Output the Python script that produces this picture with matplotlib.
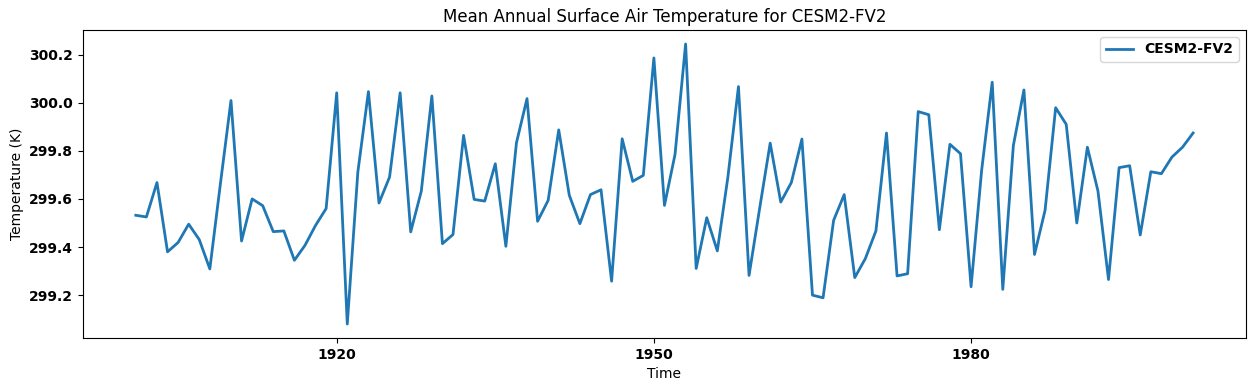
import matplotlib
matplotlib.use('Agg')
import matplotlib.pyplot as plt
import numpy as np

model = 'CESM2-FV2'
years = np.arange(1901, 2002)
tas = [
    299.532, 299.525, 299.668, 299.380, 299.419, 299.495, 299.431, 299.309, 299.663, 300.009,
    299.425, 299.600, 299.572, 299.464, 299.467, 299.345, 299.407, 299.490, 299.560, 300.041,
    299.080, 299.712, 300.046, 299.583, 299.691, 300.041, 299.463, 299.632, 300.028, 299.414,
    299.452, 299.864, 299.598, 299.591, 299.746, 299.403, 299.833, 300.017, 299.507, 299.594,
    299.887, 299.615, 299.497, 299.618, 299.638, 299.258, 299.850, 299.673, 299.698, 300.186,
    299.573, 299.785, 300.244, 299.311, 299.522, 299.384, 299.691, 300.067, 299.282, 299.560,
    299.832, 299.587, 299.668, 299.849, 299.200, 299.189, 299.511, 299.618, 299.273, 299.352,
    299.467, 299.874, 299.280, 299.289, 299.963, 299.950, 299.472, 299.827, 299.788, 299.235,
    299.719, 300.085, 299.224, 299.822, 300.053, 299.369, 299.553, 299.979, 299.910, 299.500,
    299.815, 299.633, 299.265, 299.730, 299.738, 299.450, 299.713, 299.705, 299.774, 299.815,
    299.874,
]
xticks = [1920, 1950, 1980]

fig, ax = plt.subplots(figsize=(12.55, 3.91), dpi=100)
fig.subplots_adjust(left=0.0661, right=0.9928, top=0.9233, bottom=0.1355)

ax.plot(years, tas, linewidth=2, color='#1f77b4', label=model)
ax.set_xticks(xticks)
ax.set_xticklabels([str(y) for y in xticks])
for lbl in ax.get_xticklabels() + ax.get_yticklabels():
    lbl.set_fontweight('bold')

ax.set_title(f'Mean Annual Surface Air Temperature for {model}')
ax.set_xlabel('Time')
ax.set_ylabel('Temperature (K)')
ax.legend(loc='upper right', prop={'weight': 'bold'})

plt.savefig('out.png', dpi=100)
plt.close()
